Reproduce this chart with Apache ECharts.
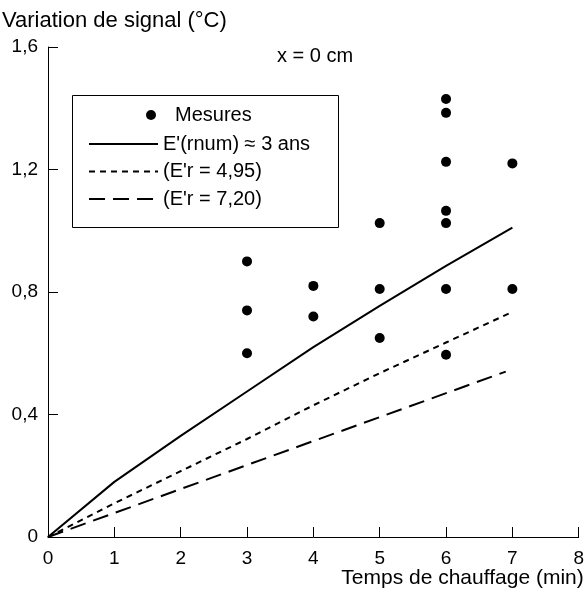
<!DOCTYPE html>
<html>
<head>
<meta charset="utf-8">
<script src="https://cdn.jsdelivr.net/npm/echarts@6/dist/echarts.min.js"></script>
<style>
  html, body { margin: 0; padding: 0; background: #fff; }
  #main { width: 587px; height: 589px; }
</style>
</head>
<body>
<div id="main"></div>
<script>
// mesures (points)
var mesuresX = [3, 3, 3, 4, 4, 5, 5, 5, 6, 6, 6, 6, 6, 6, 6, 7, 7];
var mesuresY = [0.90, 0.74, 0.60, 0.82, 0.72, 1.025, 0.81, 0.65, 1.43, 1.385, 1.225, 1.065, 1.025, 0.81, 0.595, 1.22, 0.81];
// courbes calculees
var rnumX = [0, 1, 2, 3, 4, 5, 6, 7];
var rnumY = [0, 0.18, 0.33, 0.475, 0.62, 0.755, 0.885, 1.01];
var er495X = [0, 1, 2, 3, 4, 5, 6, 7];
var er495Y = [0, 0.11, 0.215, 0.32, 0.43, 0.535, 0.635, 0.735];
var er720X = [0, 3, 6.9];
var er720Y = [0, 0.235, 0.54];
var seriesNames = ["Mesures", "E'(rnum) \u2248 3 ans", "(E'r = 4,95)", "(E'r = 7,20)"];
var xTicks = [0, 8, 1];   // min, max, pas
var yTicks = [0, 1.6, 0.4];

var font = "'Liberation Sans', Arial, sans-serif";

function pairs(xs, ys) {
  var out = [];
  for (var i = 0; i < xs.length; i++) out.push([xs[i], ys[i]]);
  return out;
}
function virgule(v) {
  if (v === 0) return "0";
  return (Math.round(v * 10) / 10).toFixed(1).replace(".", ",");
}

var myChart = echarts.init(document.getElementById("main"));
var option = {
  backgroundColor: "#fff",
  animation: false,
  textStyle: { fontFamily: font, color: "#000" },
  title: [{
    text: "Variation de signal (\u00b0C)",
    left: 2, top: 10, padding: 0,
    textStyle: { fontFamily: font, fontWeight: "normal", fontSize: 22, color: "#000" }
  }, {
    text: "x = 0 cm",
    left: 277, top: 46, padding: 0,
    textStyle: { fontFamily: font, fontWeight: "normal", fontSize: 20, color: "#000" }
  }],
  legend: [{
    data: [{ name: seriesNames[0], icon: "circle" }],
    left: 146, top: 104, padding: 0,
    itemWidth: 10, itemHeight: 10,
    itemStyle: { opacity: 1 },
    textStyle: { fontFamily: font, fontSize: 20, lineHeight: 22, color: "#000", padding: [0, 0, 0, 14] }
  }, {
    data: [seriesNames[1], seriesNames[2], seriesNames[3]],
    orient: "vertical",
    left: 88, top: 133, padding: 0,
    itemWidth: 69, itemHeight: 14, itemGap: 5.5,
    itemStyle: { opacity: 0 },
    textStyle: { fontFamily: font, fontSize: 20, lineHeight: 22, color: "#000" }
  }],
  graphic: [{
    type: "rect", z: 1,
    shape: { x: 72.5, y: 95.5, width: 266, height: 132 },
    style: { fill: "#fff", stroke: "#000", lineWidth: 1 }
  }],
  grid: { left: 48, right: 8, top: 47, bottom: 51 },
  xAxis: {
    type: "value", min: xTicks[0], max: xTicks[1], interval: xTicks[2],
    name: "Temps de chauffage (min)", nameLocation: "end", nameGap: 5,
    nameTextStyle: { fontFamily: font, fontSize: 21, color: "#000", align: "right", verticalAlign: "top", padding: [31, 0, 0, 0] },
    axisLine: { show: true, lineStyle: { color: "#000", width: 1 } },
    axisTick: { show: true, inside: true, length: 10, lineStyle: { color: "#000" } },
    axisLabel: { color: "#000", fontFamily: font, fontSize: 19, margin: 12 },
    splitLine: { show: false }
  },
  yAxis: {
    type: "value", min: yTicks[0], max: yTicks[1], interval: yTicks[2],
    axisLine: { show: true, lineStyle: { color: "#000", width: 1 } },
    axisTick: { show: true, inside: true, length: 10, lineStyle: { color: "#000" } },
    axisLabel: { color: "#000", fontFamily: font, fontSize: 19, margin: 10, formatter: virgule },
    splitLine: { show: false }
  },
  series: [{
    name: seriesNames[0],
    type: "scatter",
    data: pairs(mesuresX, mesuresY),
    symbol: "circle", symbolSize: 10,
    itemStyle: { color: "#000", opacity: 1 },
    z: 5
  }, {
    name: seriesNames[1],
    type: "line",
    data: pairs(rnumX, rnumY),
    showSymbol: false, symbol: "none",
    lineStyle: { color: "#000", width: 2, type: "solid" },
    itemStyle: { color: "#000" },
    z: 4
  }, {
    name: seriesNames[2],
    type: "line",
    data: pairs(er495X, er495Y),
    showSymbol: false, symbol: "none",
    lineStyle: { color: "#000", width: 2, type: [6, 5] },
    itemStyle: { color: "#000" },
    z: 4
  }, {
    name: seriesNames[3],
    type: "line",
    data: pairs(er720X, er720Y),
    showSymbol: false, symbol: "none",
    lineStyle: { color: "#000", width: 2, type: [16, 8] },
    itemStyle: { color: "#000" },
    z: 4
  }]
};
myChart.setOption(option);
</script>
</body>
</html>
